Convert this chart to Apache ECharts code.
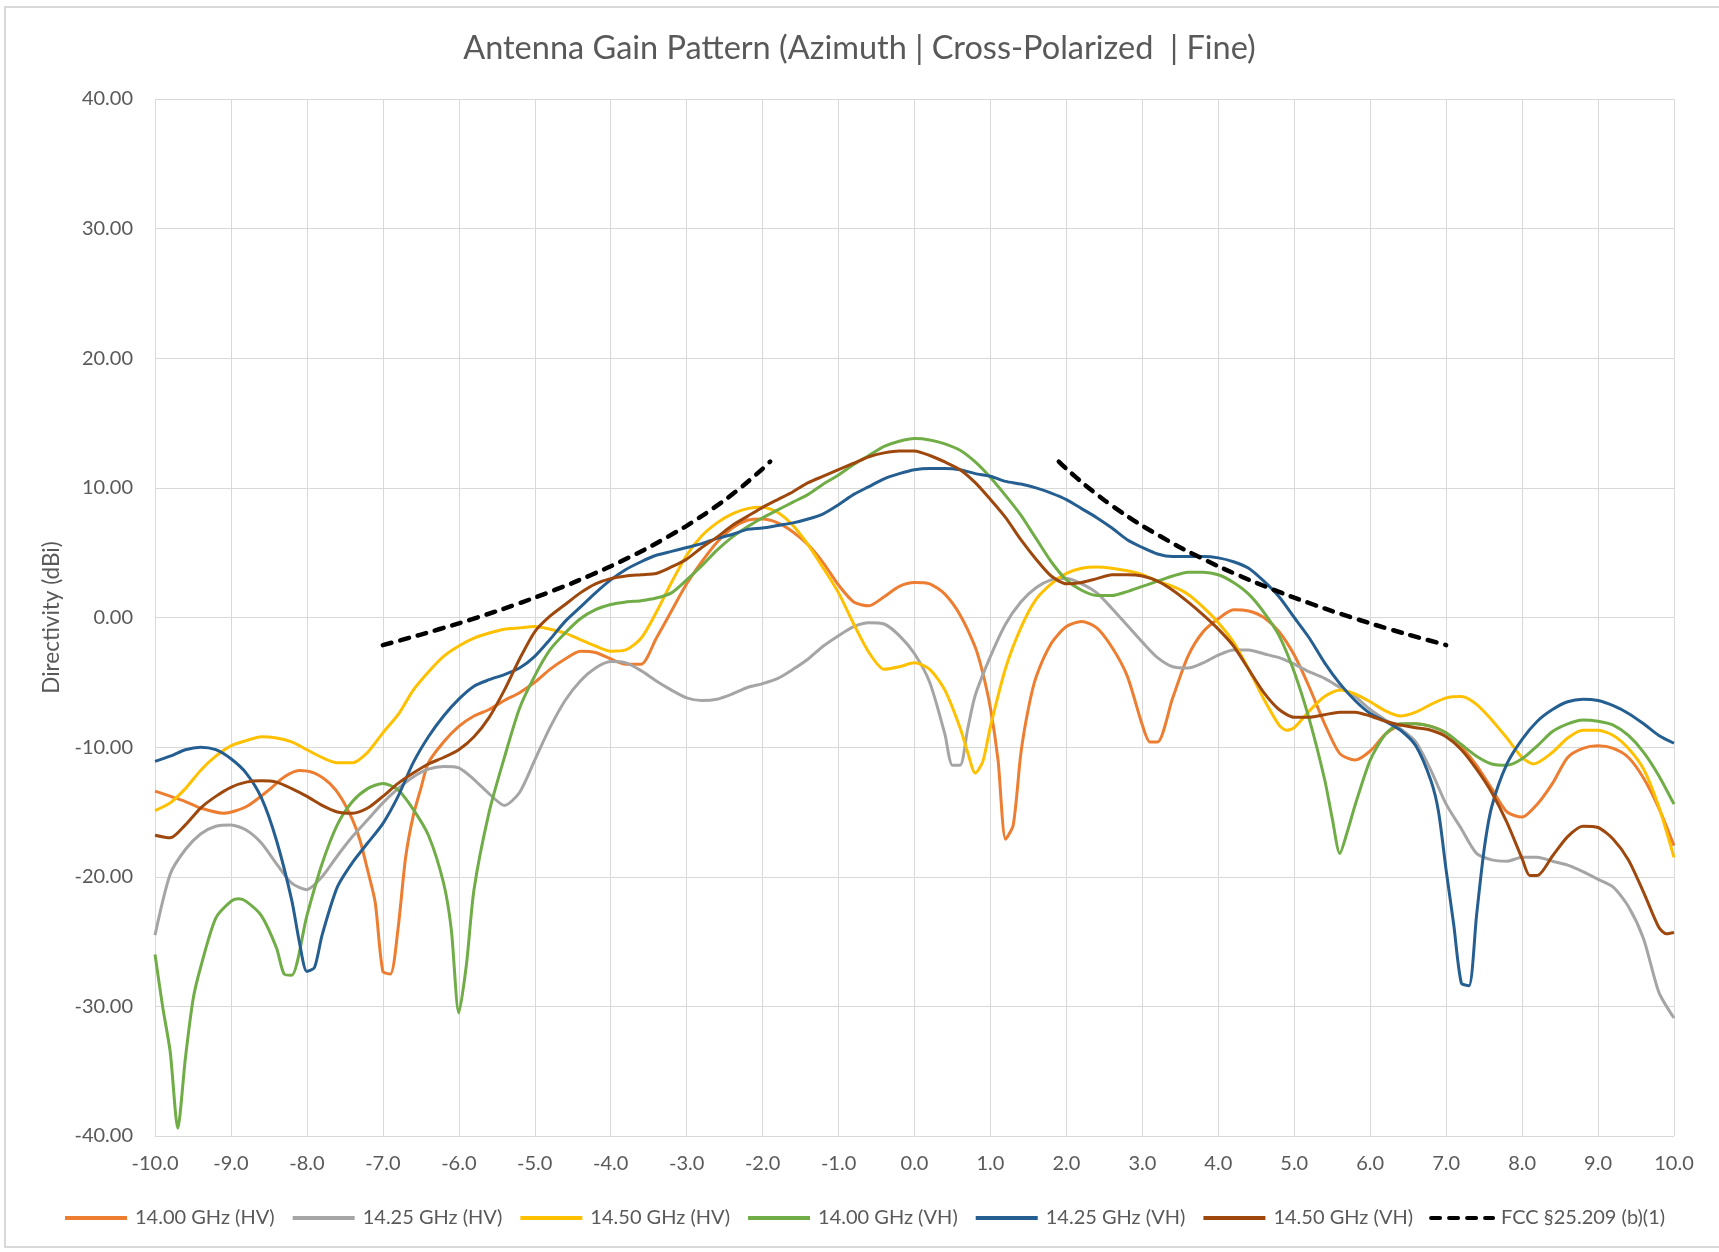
<!DOCTYPE html>
<html>
<head>
<meta charset="utf-8">
<title>Antenna Gain Pattern</title>
<script src="https://cdn.jsdelivr.net/npm/echarts@6/dist/echarts.min.js"></script>
<style>
  html, body { margin: 0; padding: 0; background: #fff; }
  #frame { position: absolute; left: 4px; top: 6px; width: 1730px; height: 1242px; border: 2px solid #D9D9D9; box-sizing: border-box; }
  #chart { position: absolute; left: 0; top: 0; width: 1719px; height: 1252px; }
</style>
</head>
<body>
<div id="frame"></div>
<div id="chart"></div>
<script>
// angle (deg) / directivity (dBi) pairs
var hv1400 = [
  [-10,-13.4],[-9.6,-14.2],[-9.4,-14.7],[-9.1,-15.1],[-8.8,-14.6],[-8.5,-13.3],[-8.3,-12.3],[-8.1,-11.8],
  [-7.9,-12.0],[-7.7,-12.8],[-7.55,-13.9],[-7.4,-15.6],[-7.3,-17.2],[-7.2,-19.5],[-7.1,-22.0],[-7.0,-27.3],
  [-6.9,-27.5],[-6.8,-24.0],[-6.7,-18.5],[-6.6,-15.3],[-6.5,-13.2],[-6.4,-11.2],[-6.2,-9.6],[-6.0,-8.4],
  [-5.8,-7.6],[-5.6,-7.1],[-5.4,-6.4],[-5.2,-5.8],[-5.0,-5.0],[-4.8,-4.0],[-4.6,-3.2],[-4.4,-2.6],
  [-4.2,-2.7],[-4.0,-3.2],[-3.8,-3.6],[-3.6,-3.6],[-3.4,-1.6],[-3.2,0.5],[-3.0,2.6],[-2.8,4.3],
  [-2.6,5.8],[-2.4,6.9],[-2.2,7.5],[-2.0,7.6],[-1.8,7.3],[-1.6,6.6],[-1.4,5.6],[-1.2,4.2],
  [-1.0,2.5],[-0.8,1.2],[-0.6,0.9],[-0.4,1.6],[-0.2,2.4],[0,2.7],[0.2,2.6],[0.4,1.8],
  [0.6,0.2],[0.8,-2.3],[0.9,-4.3],[1.0,-7.0],[1.1,-11.0],[1.2,-17.1],[1.3,-16.0],[1.4,-10.5],
  [1.5,-7.0],[1.6,-4.6],[1.8,-2.0],[2.0,-0.7],[2.2,-0.3],[2.4,-0.8],[2.6,-2.3],[2.8,-4.5],
  [3.0,-8.3],[3.1,-9.6],[3.2,-9.6],[3.4,-6.2],[3.6,-3.0],[3.8,-1.1],[4.0,-0.1],[4.2,0.6],
  [4.4,0.5],[4.6,0.0],[4.8,-1.1],[5.0,-2.9],[5.2,-5.4],[5.4,-8.2],[5.6,-10.5],[5.8,-11.0],
  [6.0,-10.3],[6.2,-9.0],[6.4,-8.3],[6.6,-8.2],[6.8,-8.4],[7.0,-8.9],[7.2,-10.0],[7.4,-11.4],
  [7.6,-13.2],[7.8,-15.0],[8.0,-15.4],[8.2,-14.4],[8.4,-12.8],[8.6,-10.8],[8.8,-10.1],[9.0,-9.9],
  [9.2,-10.1],[9.4,-10.8],[9.6,-12.4],[9.8,-14.7],[10,-17.6]
];

var hv1425 = [
  [-10,-24.5],[-9.8,-19.8],[-9.6,-17.9],[-9.4,-16.7],[-9.2,-16.1],[-9.0,-16.0],[-8.8,-16.4],[-8.6,-17.4],
  [-8.4,-19.0],[-8.2,-20.5],[-8.0,-21.0],[-7.8,-20.0],[-7.6,-18.4],[-7.4,-16.9],[-7.2,-15.6],[-7.0,-14.3],
  [-6.8,-13.2],[-6.6,-12.3],[-6.4,-11.7],[-6.2,-11.5],[-6.0,-11.6],[-5.8,-12.5],[-5.6,-13.6],[-5.4,-14.5],
  [-5.2,-13.5],[-5.0,-11.0],[-4.8,-8.5],[-4.6,-6.4],[-4.4,-4.9],[-4.2,-3.9],[-4.0,-3.4],[-3.8,-3.5],
  [-3.6,-4.1],[-3.4,-4.9],[-3.2,-5.6],[-3.0,-6.2],[-2.8,-6.4],[-2.6,-6.3],[-2.4,-5.9],[-2.2,-5.4],
  [-2.0,-5.1],[-1.8,-4.7],[-1.6,-4.0],[-1.4,-3.2],[-1.2,-2.2],[-1.0,-1.4],[-0.8,-0.7],[-0.6,-0.4],
  [-0.4,-0.5],[-0.2,-1.4],[0,-2.8],[0.2,-5.0],[0.4,-9.0],[0.5,-11.4],[0.6,-11.4],[0.7,-8.6],
  [0.8,-6.0],[1.0,-3.0],[1.2,-0.5],[1.4,1.2],[1.6,2.3],[1.8,2.9],[2.0,3.0],[2.2,2.6],
  [2.4,1.9],[2.6,0.7],[2.8,-0.6],[3.0,-1.9],[3.2,-3.1],[3.4,-3.8],[3.6,-3.9],[3.8,-3.5],
  [4.0,-2.9],[4.2,-2.5],[4.4,-2.5],[4.6,-2.8],[4.8,-3.1],[5.0,-3.6],[5.2,-4.2],[5.4,-4.7],
  [5.6,-5.4],[5.8,-6.1],[6.0,-7.1],[6.2,-7.9],[6.4,-8.6],[6.6,-9.6],[6.8,-11.8],[7.0,-14.4],
  [7.2,-16.3],[7.4,-18.2],[7.6,-18.7],[7.8,-18.8],[8.0,-18.5],[8.2,-18.5],[8.4,-18.8],[8.6,-19.1],
  [8.8,-19.6],[9.0,-20.2],[9.2,-20.8],[9.4,-22.3],[9.6,-24.8],[9.8,-28.9],[10,-30.9]
];

var hv1450 = [
  [-10,-14.9],[-9.8,-14.3],[-9.6,-13.2],[-9.4,-11.8],[-9.2,-10.7],[-9.0,-9.9],[-8.8,-9.5],[-8.6,-9.2],
  [-8.4,-9.3],[-8.2,-9.6],[-8.0,-10.2],[-7.8,-10.8],[-7.6,-11.2],[-7.4,-11.2],[-7.2,-10.4],[-7.0,-8.9],
  [-6.8,-7.5],[-6.6,-5.6],[-6.4,-4.2],[-6.2,-3.0],[-6.0,-2.2],[-5.8,-1.6],[-5.6,-1.2],[-5.4,-0.9],
  [-5.2,-0.8],[-5.0,-0.7],[-4.8,-0.9],[-4.6,-1.2],[-4.4,-1.7],[-4.2,-2.2],[-4.0,-2.6],[-3.8,-2.5],
  [-3.6,-1.6],[-3.4,0.4],[-3.2,2.7],[-3.0,4.8],[-2.8,6.3],[-2.6,7.3],[-2.4,8.0],[-2.2,8.4],
  [-2.0,8.5],[-1.8,8.1],[-1.6,7.1],[-1.4,5.6],[-1.2,3.8],[-1.0,1.9],[-0.8,-0.5],[-0.6,-2.7],
  [-0.4,-4.0],[-0.2,-3.8],[0,-3.5],[0.2,-4.0],[0.4,-5.6],[0.6,-8.5],[0.7,-10.4],[0.8,-12.0],
  [0.9,-11.1],[1.0,-8.4],[1.2,-3.9],[1.4,-0.8],[1.6,1.4],[1.8,2.6],[2.0,3.4],[2.2,3.8],
  [2.4,3.9],[2.6,3.8],[2.8,3.6],[3.0,3.3],[3.2,2.8],[3.4,2.4],[3.6,1.8],[3.8,0.8],
  [4.0,-0.4],[4.2,-1.9],[4.4,-4.0],[4.6,-6.3],[4.8,-8.3],[4.9,-8.7],[5.0,-8.5],[5.2,-7.2],
  [5.4,-6.1],[5.6,-5.6],[5.8,-5.9],[6.0,-6.5],[6.2,-7.2],[6.4,-7.6],[6.6,-7.3],[6.8,-6.7],
  [7.0,-6.2],[7.2,-6.1],[7.4,-6.7],[7.6,-7.9],[7.8,-9.3],[8.0,-10.8],[8.15,-11.3],[8.4,-10.4],
  [8.6,-9.3],[8.8,-8.7],[9.0,-8.7],[9.2,-9.1],[9.4,-10.1],[9.6,-11.7],[9.8,-14.6],[10,-18.5]
];

var vh1400 = [
  [-10,-26.0],[-9.9,-30.0],[-9.8,-33.5],[-9.7,-39.4],[-9.6,-34.0],[-9.5,-29.5],[-9.4,-27.0],[-9.2,-23.2],
  [-9.0,-21.9],[-8.9,-21.7],[-8.8,-21.9],[-8.6,-23.0],[-8.4,-25.5],[-8.3,-27.5],[-8.2,-27.6],[-8.0,-23.0],
  [-7.8,-19.0],[-7.6,-16.0],[-7.4,-14.2],[-7.2,-13.2],[-7.0,-12.8],[-6.8,-13.3],[-6.6,-14.8],[-6.4,-16.8],
  [-6.2,-20.5],[-6.1,-24.0],[-6.0,-30.5],[-5.9,-26.8],[-5.8,-21.0],[-5.6,-15.0],[-5.4,-10.8],[-5.2,-7.0],
  [-5.0,-4.5],[-4.8,-2.5],[-4.6,-1.2],[-4.4,-0.1],[-4.2,0.6],[-4.0,1.0],[-3.8,1.2],[-3.6,1.3],
  [-3.4,1.5],[-3.2,1.9],[-3.0,2.9],[-2.8,4.0],[-2.6,5.2],[-2.4,6.2],[-2.2,7.0],[-2.0,7.7],
  [-1.8,8.3],[-1.6,8.9],[-1.4,9.5],[-1.2,10.3],[-1.0,11.0],[-0.8,11.8],[-0.6,12.5],[-0.4,13.2],
  [-0.2,13.6],[0,13.8],[0.2,13.7],[0.4,13.4],[0.6,12.9],[0.8,12.0],[1.0,10.8],[1.2,9.4],
  [1.4,7.9],[1.6,6.1],[1.8,4.3],[2.0,2.9],[2.2,2.1],[2.4,1.7],[2.6,1.7],[2.8,2.0],
  [3.0,2.4],[3.2,2.8],[3.4,3.2],[3.6,3.5],[3.8,3.5],[4.0,3.3],[4.2,2.7],[4.4,1.8],
  [4.6,0.4],[4.8,-1.4],[5.0,-4.2],[5.2,-7.9],[5.4,-12.5],[5.5,-15.5],[5.6,-18.2],[5.7,-16.5],
  [5.8,-14.5],[6.0,-11.0],[6.2,-9.0],[6.4,-8.2],[6.6,-8.2],[6.8,-8.4],[7.0,-8.9],[7.2,-9.8],
  [7.4,-10.7],[7.6,-11.3],[7.8,-11.4],[8.0,-10.9],[8.2,-9.9],[8.4,-8.8],[8.6,-8.2],[8.8,-7.9],
  [9.0,-8.0],[9.2,-8.3],[9.4,-9.1],[9.6,-10.4],[9.8,-12.2],[10,-14.4]
];

var vh1425 = [
  [-10,-11.1],[-9.8,-10.7],[-9.6,-10.2],[-9.4,-10.0],[-9.2,-10.2],[-9.0,-10.9],[-8.8,-12.0],[-8.6,-13.9],
  [-8.4,-17.2],[-8.2,-21.8],[-8.1,-25.0],[-8.0,-27.3],[-7.9,-27.0],[-7.8,-24.5],[-7.6,-20.8],[-7.4,-18.9],
  [-7.2,-17.4],[-7.0,-15.9],[-6.8,-13.8],[-6.6,-11.2],[-6.4,-9.2],[-6.2,-7.6],[-6.0,-6.3],[-5.8,-5.3],
  [-5.6,-4.8],[-5.4,-4.4],[-5.2,-3.9],[-5.0,-3.0],[-4.8,-1.7],[-4.6,-0.3],[-4.4,0.8],[-4.2,1.9],
  [-4.0,2.9],[-3.8,3.7],[-3.6,4.3],[-3.4,4.8],[-3.2,5.1],[-3.0,5.4],[-2.8,5.7],[-2.6,6.1],
  [-2.4,6.4],[-2.2,6.8],[-2.0,6.9],[-1.8,7.1],[-1.6,7.3],[-1.4,7.6],[-1.2,8.0],[-1.0,8.7],
  [-0.8,9.5],[-0.6,10.1],[-0.4,10.7],[-0.2,11.1],[0,11.4],[0.2,11.5],[0.4,11.5],[0.6,11.4],
  [0.8,11.1],[1.0,10.9],[1.2,10.5],[1.4,10.3],[1.6,10.0],[1.8,9.6],[2.0,9.1],[2.2,8.4],
  [2.4,7.7],[2.6,6.9],[2.8,6.0],[3.0,5.4],[3.2,4.9],[3.4,4.7],[3.6,4.7],[3.8,4.7],
  [4.0,4.6],[4.2,4.3],[4.4,3.8],[4.6,2.8],[4.8,1.6],[5.0,0.0],[5.2,-1.6],[5.4,-3.5],
  [5.6,-5.1],[5.8,-6.4],[6.0,-7.4],[6.2,-8.0],[6.4,-8.7],[6.6,-9.9],[6.8,-12.6],[6.9,-15.0],
  [7.0,-19.5],[7.1,-23.7],[7.2,-28.2],[7.3,-28.4],[7.4,-23.0],[7.5,-17.9],[7.6,-14.6],[7.8,-11.3],
  [8.0,-9.4],[8.2,-8.0],[8.4,-7.1],[8.6,-6.5],[8.8,-6.3],[9.0,-6.4],[9.2,-6.8],[9.4,-7.4],
  [9.6,-8.2],[9.8,-9.1],[10,-9.7]
];

var vh1450 = [
  [-10,-16.8],[-9.8,-17.0],[-9.6,-16.0],[-9.4,-14.7],[-9.2,-13.8],[-9.0,-13.1],[-8.8,-12.7],[-8.6,-12.6],
  [-8.4,-12.7],[-8.2,-13.2],[-8.0,-13.8],[-7.8,-14.5],[-7.6,-15.0],[-7.4,-15.1],[-7.2,-14.7],[-7.0,-13.8],
  [-6.8,-12.8],[-6.6,-12.0],[-6.4,-11.3],[-6.2,-10.8],[-6.0,-10.2],[-5.8,-9.2],[-5.6,-7.7],[-5.4,-5.6],
  [-5.2,-3.2],[-5.0,-1.1],[-4.8,0.1],[-4.6,1.0],[-4.4,1.9],[-4.2,2.6],[-4.0,3.0],[-3.8,3.2],
  [-3.6,3.3],[-3.4,3.4],[-3.2,3.9],[-3.0,4.5],[-2.8,5.4],[-2.6,6.2],[-2.4,7.1],[-2.2,7.8],
  [-2.0,8.5],[-1.8,9.1],[-1.6,9.7],[-1.4,10.4],[-1.2,10.9],[-1.0,11.4],[-0.8,11.9],[-0.6,12.4],
  [-0.4,12.7],[-0.2,12.85],[0,12.85],[0.2,12.5],[0.4,12.0],[0.6,11.4],[0.8,10.4],[1.0,9.1],
  [1.2,7.7],[1.4,6.0],[1.6,4.5],[1.8,3.2],[2.0,2.6],[2.2,2.7],[2.4,3.0],[2.6,3.3],
  [2.8,3.3],[3.0,3.2],[3.2,2.8],[3.4,2.1],[3.6,1.2],[3.8,0.2],[4.0,-0.9],[4.2,-2.2],
  [4.4,-4.0],[4.6,-5.8],[4.8,-7.1],[5.0,-7.7],[5.2,-7.7],[5.4,-7.5],[5.6,-7.3],[5.8,-7.3],
  [6.0,-7.6],[6.2,-8.0],[6.4,-8.3],[6.6,-8.5],[6.8,-8.7],[7.0,-9.2],[7.2,-10.2],[7.4,-11.7],
  [7.6,-13.5],[7.8,-15.8],[8.0,-18.6],[8.1,-19.9],[8.2,-19.9],[8.4,-18.4],[8.6,-16.9],[8.8,-16.1],
  [9.0,-16.2],[9.2,-17.1],[9.4,-18.7],[9.6,-21.2],[9.8,-23.9],[9.9,-24.4],[10,-24.3]
];

// FCC §25.209 (b)(1) cross-pol mask, two branches with a gap around boresight
var fccMask = [
  [-7.0,-2.13],[-6.5,-1.32],[-6.0,-0.45],[-5.5,0.49],[-5.0,1.53],[-4.5,2.67],[-4.0,3.95],[-3.5,5.40],
  [-3.0,7.07],[-2.75,8.02],[-2.5,9.05],[-2.25,10.20],[-2.0,11.47],[-1.9,12.03],
  [0,null],
  [1.9,12.03],[2.0,11.47],[2.25,10.20],[2.5,9.05],[2.75,8.02],[3.0,7.07],[3.5,5.40],[4.0,3.95],
  [4.5,2.67],[5.0,1.53],[5.5,0.49],[6.0,-0.45],[6.5,-1.32],[7.0,-2.13]
];

var seriesNames = ['14.00 GHz (HV)', '14.25 GHz (HV)', '14.50 GHz (HV)',
                   '14.00 GHz (VH)', '14.25 GHz (VH)', '14.50 GHz (VH)', 'FCC §25.209 (b)(1)'];

var textColor = '#595959';
var fontFam = 'Lato, "Open Sans", sans-serif';

function traceLine(name, data, color) {
  return {
    name: name,
    type: 'line',
    data: data,
    showSymbol: false,
    symbol: 'none',
    smooth: 0.25,
    lineStyle: { color: color, width: 3 },
    itemStyle: { color: color },
    emphasis: { disabled: true }
  };
}

var chart = echarts.init(document.getElementById('chart'));
var option = {
  animation: false,
  backgroundColor: 'transparent',
  textStyle: { fontFamily: fontFam, color: textColor },
  title: {
    text: 'Antenna Gain Pattern (Azimuth | Cross-Polarized  | Fine)',
    left: 'center',
    top: 27,
    textStyle: { fontFamily: fontFam, fontSize: 32.5, fontWeight: 'normal', color: textColor }
  },
  grid: { left: 155, top: 99, width: 1519, height: 1037 },
  legend: {
    left: 58,
    top: 1203,
    itemWidth: 62,
    itemHeight: 14,
    itemGap: 16,
    data: seriesNames,
    itemStyle: { opacity: 0 },
    lineStyle: { width: 4 },
    textStyle: { fontFamily: fontFam, fontSize: 20, color: textColor, padding: [0, 0, 0, 3] }
  },
  xAxis: {
    type: 'value',
    min: -10,
    max: 10,
    interval: 1,
    axisLine: { show: true, lineStyle: { color: '#D9D9D9', width: 1 } },
    axisTick: { show: false },
    splitLine: { show: true, lineStyle: { color: '#D9D9D9', width: 1 } },
    axisLabel: {
      margin: 18,
      fontFamily: fontFam,
      fontSize: 20,
      color: textColor,
      formatter: function (v) { return v.toFixed(1); }
    }
  },
  yAxis: {
    type: 'value',
    min: -40,
    max: 40,
    interval: 10,
    name: 'Directivity (dBi)',
    nameLocation: 'middle',
    nameGap: 90,
    nameTextStyle: { fontFamily: fontFam, fontSize: 22.5, color: textColor },
    axisLine: { show: false },
    axisTick: { show: false },
    splitLine: { show: true, lineStyle: { color: '#D9D9D9', width: 1 } },
    axisLabel: {
      margin: 22,
      fontFamily: fontFam,
      fontSize: 20,
      color: textColor,
      formatter: function (v) { return v.toFixed(2); }
    }
  },
  series: [
    traceLine(seriesNames[0], hv1400, '#ED7D31'),
    traceLine(seriesNames[1], hv1425, '#A5A5A5'),
    traceLine(seriesNames[2], hv1450, '#FFC000'),
    traceLine(seriesNames[3], vh1400, '#70AD47'),
    traceLine(seriesNames[4], vh1425, '#255E91'),
    traceLine(seriesNames[5], vh1450, '#9E480E'),
    {
      name: seriesNames[6],
      type: 'line',
      data: fccMask,
      showSymbol: false,
      symbol: 'none',
      smooth: 0.2,
      connectNulls: false,
      lineStyle: { color: '#000000', width: 4.5, type: [9, 9], cap: 'round' },
      itemStyle: { color: '#000000' },
      emphasis: { disabled: true }
    }
  ]
};
chart.setOption(option);
</script>
</body>
</html>
